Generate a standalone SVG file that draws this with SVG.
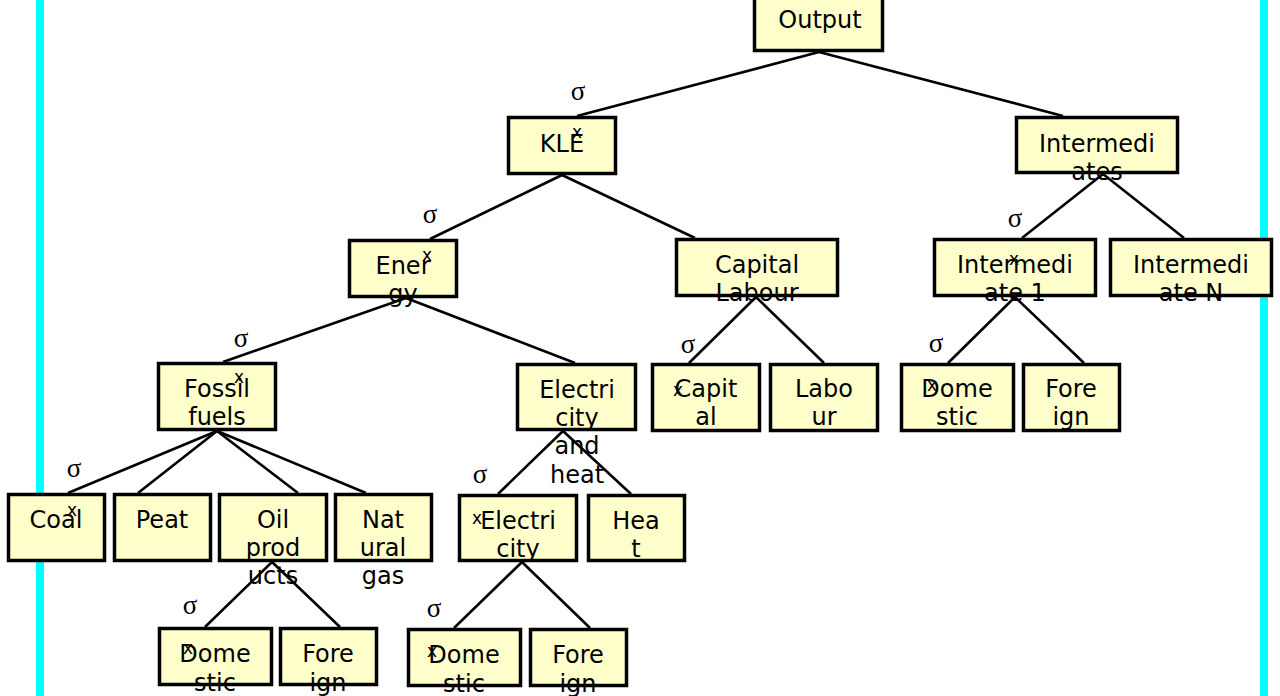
<svg xmlns="http://www.w3.org/2000/svg" width="1280" height="696" viewBox="0 0 1280 696">
<style>
.bar{fill:#00FFFF}
.box{fill:#FFFFCC;stroke:#000;stroke-width:3.5}
.t{font-family:"DejaVu Sans",Verdana,sans-serif;font-size:24px;fill:#000;text-anchor:middle}
.s{font-family:"Liberation Serif","Times New Roman",serif;font-size:27px;fill:#000;text-anchor:middle}
.x{font-family:"DejaVu Sans",Verdana,sans-serif;font-size:17px;fill:#000;text-anchor:middle}
.c line{stroke:#000;stroke-width:2.6}
</style>
<rect width="1280" height="696" fill="#fff"/>
<rect class="bar" x="36" y="0" width="8" height="696"/>
<rect class="bar" x="1260" y="0" width="8" height="696"/>
<g id="connectors" class="c">
<line x1="819" y1="52" x2="577" y2="116"/>
<line x1="819" y1="52" x2="1063" y2="116"/>
<line x1="562" y1="175" x2="430" y2="239"/>
<line x1="562" y1="175" x2="695" y2="238"/>
<line x1="406" y1="298" x2="223" y2="362"/>
<line x1="406" y1="298" x2="575" y2="363"/>
<line x1="217" y1="431" x2="68" y2="493"/>
<line x1="217" y1="431" x2="138" y2="493"/>
<line x1="217" y1="431" x2="298" y2="493"/>
<line x1="217" y1="431" x2="366" y2="493"/>
<line x1="272" y1="562" x2="205" y2="627"/>
<line x1="272" y1="562" x2="340" y2="627"/>
<line x1="563" y1="431" x2="498" y2="494"/>
<line x1="563" y1="431" x2="631" y2="494"/>
<line x1="522" y1="562" x2="454" y2="628"/>
<line x1="522" y1="562" x2="590" y2="628"/>
<line x1="756" y1="297" x2="689" y2="363"/>
<line x1="756" y1="297" x2="824" y2="363"/>
<line x1="1103" y1="174" x2="1022" y2="238"/>
<line x1="1103" y1="174" x2="1184" y2="238"/>
<line x1="1015" y1="297" x2="948" y2="363"/>
<line x1="1015" y1="297" x2="1084" y2="363"/>
</g>
<g id="labels">
<text class="s" x="578" y="100">σ</text>
<text class="s" x="430" y="223">σ</text>
<text class="s" x="1015" y="227">σ</text>
<text class="s" x="241" y="347">σ</text>
<text class="s" x="74" y="477">σ</text>
<text class="s" x="480" y="483">σ</text>
<text class="s" x="190" y="614">σ</text>
<text class="s" x="434" y="617">σ</text>
<text class="s" x="688" y="353">σ</text>
<text class="s" x="936" y="352">σ</text>
</g>
<g id="output"><rect class="box" x="754.5" y="-5.5" width="128" height="56"/><text class="t" x="820" y="28">Output</text></g>
<g id="kle"><rect class="box" x="508.5" y="117.5" width="107" height="56"/><text class="t" x="562" y="152">KLE</text><text class="x" x="577" y="138">x</text></g>
<g id="intermediates"><rect class="box" x="1016.5" y="117.5" width="161" height="55"/><text class="t" x="1097" y="152">Intermedi</text><text class="t" x="1097" y="180">ates</text></g>
<g id="energy"><rect class="box" x="349.5" y="240.5" width="107" height="56"/><text class="t" x="403" y="274">Ener</text><text class="t" x="403" y="302">gy</text><text class="x" x="427" y="261">x</text></g>
<g id="capital-labour"><rect class="box" x="676.5" y="239.5" width="161" height="56"/><text class="t" x="757" y="273">Capital</text><text class="t" x="757" y="301">Labour</text></g>
<g id="intermediate-1"><rect class="box" x="934.5" y="239.5" width="161" height="56"/><text class="t" x="1015" y="273">Intermedi</text><text class="t" x="1015" y="301">ate 1</text><text class="x" x="1014" y="265">x</text></g>
<g id="intermediate-n"><rect class="box" x="1110.5" y="239.5" width="161" height="56"/><text class="t" x="1191" y="273">Intermedi</text><text class="t" x="1191" y="301">ate N</text></g>
<g id="fossil-fuels"><rect class="box" x="158.5" y="363.5" width="117" height="66"/><text class="t" x="217" y="397">Fossil</text><text class="t" x="217" y="425">fuels</text><text class="x" x="239" y="383">x</text></g>
<g id="electricity-heat"><rect class="box" x="517.5" y="364.5" width="118" height="65"/><text class="t" x="577" y="398">Electri</text><text class="t" x="577" y="426">city</text><text class="t" x="577" y="454">and</text><text class="t" x="577" y="483">heat</text></g>
<g id="capital"><rect class="box" x="652.5" y="364.5" width="107" height="66"/><text class="t" x="706" y="397">Capit</text><text class="t" x="706" y="425">al</text><text class="x" x="678" y="396">x</text></g>
<g id="labour"><rect class="box" x="770.5" y="364.5" width="107" height="66"/><text class="t" x="824" y="397">Labo</text><text class="t" x="824" y="425">ur</text></g>
<g id="domestic-3"><rect class="box" x="901.5" y="364.5" width="112" height="66"/><text class="t" x="957" y="397">Dome</text><text class="t" x="957" y="425">stic</text><text class="x" x="932" y="391">x</text></g>
<g id="foreign-3"><rect class="box" x="1023.5" y="364.5" width="96" height="66"/><text class="t" x="1071" y="397">Fore</text><text class="t" x="1071" y="425">ign</text></g>
<g id="coal"><rect class="box" x="8.5" y="494.5" width="96" height="66"/><text class="t" x="56" y="528">Coal</text><text class="x" x="72" y="516">x</text></g>
<g id="peat"><rect class="box" x="114.5" y="494.5" width="96" height="66"/><text class="t" x="162" y="528">Peat</text></g>
<g id="oil-products"><rect class="box" x="219.5" y="494.5" width="107" height="66"/><text class="t" x="273" y="528">Oil</text><text class="t" x="273" y="556">prod</text><text class="t" x="273" y="584">ucts</text></g>
<g id="natural-gas"><rect class="box" x="335.5" y="494.5" width="96" height="66"/><text class="t" x="383" y="528">Nat</text><text class="t" x="383" y="556">ural</text><text class="t" x="383" y="584">gas</text></g>
<g id="electricity"><rect class="box" x="459.5" y="495.5" width="117" height="65"/><text class="t" x="518" y="529">Electri</text><text class="t" x="518" y="557">city</text><text class="x" x="477" y="524">x</text></g>
<g id="heat"><rect class="box" x="588.5" y="495.5" width="96" height="65"/><text class="t" x="636" y="529">Hea</text><text class="t" x="636" y="557">t</text></g>
<g id="domestic-1"><rect class="box" x="159.5" y="628.5" width="112" height="56"/><text class="t" x="215" y="662">Dome</text><text class="t" x="215" y="691">stic</text><text class="x" x="188" y="654">x</text></g>
<g id="foreign-1"><rect class="box" x="280.5" y="628.5" width="96" height="56"/><text class="t" x="328" y="662">Fore</text><text class="t" x="328" y="691">ign</text></g>
<g id="domestic-2"><rect class="box" x="408.5" y="629.5" width="112" height="56"/><text class="t" x="464" y="663">Dome</text><text class="t" x="464" y="692">stic</text><text class="x" x="432" y="657">x</text></g>
<g id="foreign-2"><rect class="box" x="530.5" y="629.5" width="96" height="56"/><text class="t" x="578" y="663">Fore</text><text class="t" x="578" y="692">ign</text></g>
</svg>
